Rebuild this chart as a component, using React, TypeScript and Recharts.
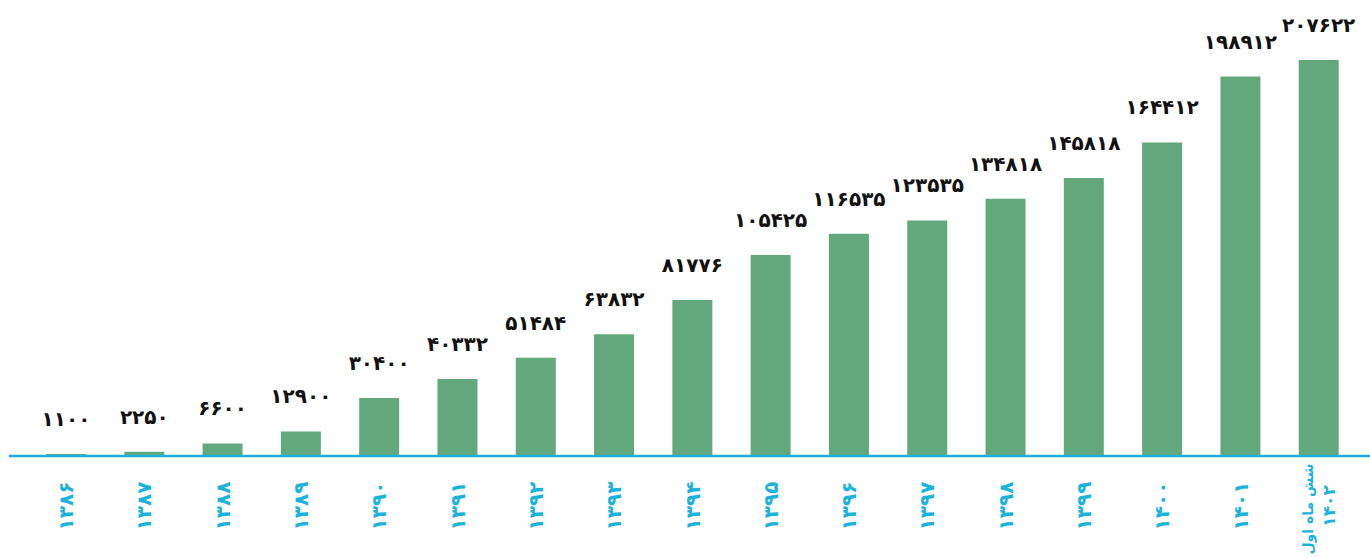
import { BarChart, Bar, XAxis, YAxis, LabelList } from 'recharts'

const years = ['۱۳۸۶', '۱۳۸۷', '۱۳۸۸', '۱۳۸۹', '۱۳۹۰', '۱۳۹۱', '۱۳۹۲', '۱۳۹۳', '۱۳۹۴', '۱۳۹۵', '۱۳۹۶', '۱۳۹۷', '۱۳۹۸', '۱۳۹۹', '۱۴۰۰', '۱۴۰۱', 'شش ماه اول\n۱۴۰۲']
const totals = [1100, 2250, 6600, 12900, 30400, 40332, 51484, 63832, 81776, 105425, 116535, 123535, 134818, 145818, 164412, 198912, 207622]

const GREEN = '#63a87c'
const CYAN = '#1bb3dc'
const FONT = '"DejaVu Sans", sans-serif'

const data = years.map((year, i) => ({ year, total: totals[i] }))

function toPersian(n: number | string) {
  return String(n).replace(/\d/g, d => '۰۱۲۳۴۵۶۷۸۹'[+d])
}

// vertical year labels; the two-line label uses a smaller first line so it fits under the axis
function YearTick({ x, y, payload }: any) {
  const lines = String(payload.value).split('\n')
  const step = 21
  const start = -((lines.length - 1) * step) / 2
  const multi = lines.length > 1
  return (
    <g transform={`translate(${x},${y + 50})`}>
      <text
        transform="rotate(-90)"
        textAnchor="middle"
        fill={CYAN}
        fontFamily={FONT}
        fontWeight={700}
        fontSize={20}
      >
        {lines.map((line, i) => (
          <tspan
            key={i}
            x={multi && i === 0 ? -3 : 0}
            y={start + i * step}
            fontSize={multi ? (i === 0 ? 14 : 17) : 20}
            dominantBaseline="central"
          >
            {line}
          </tspan>
        ))}
      </text>
    </g>
  )
}

function ValueLabel({ x, y, width, value }: any) {
  return (
    <text
      x={x + width / 2}
      y={y - 28}
      textAnchor="middle"
      fill="#111"
      fontFamily={FONT}
      fontWeight={700}
      fontSize={20}
    >
      {toPersian(value)}
    </text>
  )
}

export default function App() {
  return (
    <div style={{ position: 'fixed', left: 0, top: 0, width: 1370, height: 558, background: '#fff' }}>
      <BarChart
        width={1370}
        height={558}
        data={data}
        margin={{ top: 60, right: 0, left: 9, bottom: 0 }}
        barSize={40}
      >
        <XAxis
          dataKey="year"
          height={102}
          interval={0}
          tickSize={0}
          tickMargin={0}
          tick={<YearTick />}
          axisLine={{ stroke: CYAN, strokeWidth: 2.5 }}
          padding={{ left: 18, right: 12 }}
        />
        <YAxis hide domain={[0, 207622]} />
        <Bar dataKey="total" fill={GREEN} isAnimationActive={false}>
          <LabelList dataKey="total" content={<ValueLabel />} />
        </Bar>
      </BarChart>
    </div>
  )
}
